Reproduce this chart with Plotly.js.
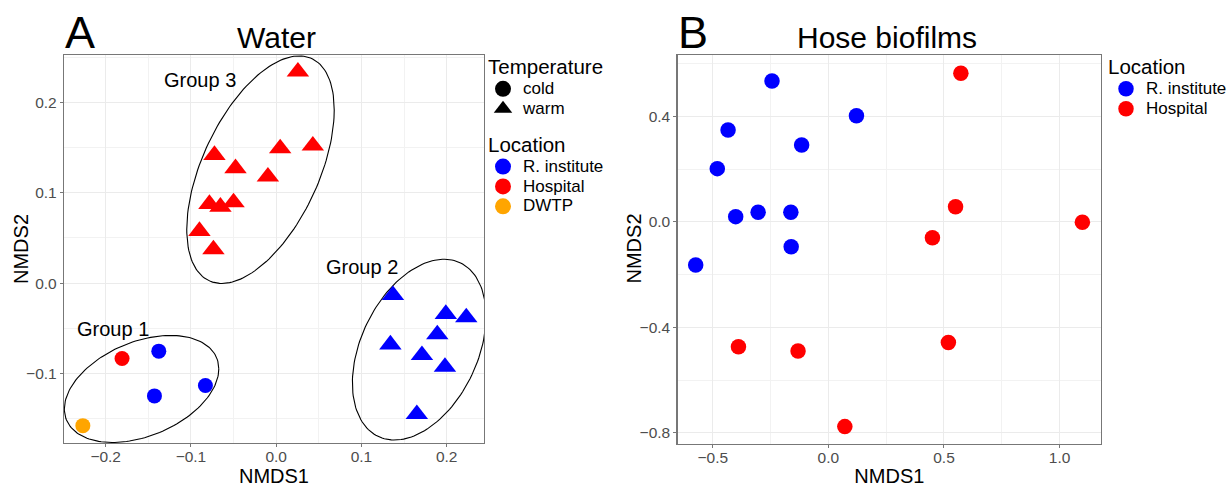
<!DOCTYPE html>
<html>
<head>
<meta charset="utf-8">
<script src="https://cdn.plot.ly/plotly-3.0.1.min.js"></script>
<style>
html,body{margin:0;padding:0;background:#fff;}
#chart{width:1227px;height:488px;}
</style>
</head>
<body>
<div id="chart"></div>
<script>
// ---------- Panel A: Water ----------
const waterNMDS1 = [0.0255, 0.043, 0.0047, -0.0724, -0.0477, -0.0097, -0.0783, -0.0654, -0.050, -0.090, -0.0736,
                    0.137, 0.199, 0.223, 0.189, 0.134, 0.171, 0.198, 0.165,
                    -0.1377, -0.1808, -0.1428, -0.083, -0.2268];
const waterNMDS2 = [0.234, 0.152, 0.149, 0.1417, 0.127, 0.1177, 0.0875, 0.0845, 0.0893, 0.0576, 0.0373,
                    -0.0133, -0.0343, -0.038, -0.0568, -0.068, -0.0797, -0.0927, -0.145,
                    -0.0753, -0.0834, -0.1248, -0.1133, -0.1577];
const waterLocation = ['Hospital','Hospital','Hospital','Hospital','Hospital','Hospital','Hospital','Hospital','Hospital','Hospital','Hospital',
                       'R. institute','R. institute','R. institute','R. institute','R. institute','R. institute','R. institute','R. institute',
                       'R. institute','Hospital','R. institute','R. institute','DWTP'];
const waterTemperature = ['warm','warm','warm','warm','warm','warm','warm','warm','warm','warm','warm',
                          'warm','warm','warm','warm','warm','warm','warm','warm',
                          'cold','cold','cold','cold','cold'];

// Ellipse (stat_ellipse) parameters
const groupNames   = ['Group 1', 'Group 2', 'Group 3'];
const ellipseCX    = [-0.1579, 0.1678, -0.0184];
const ellipseCY    = [-0.1171, -0.0736, 0.1255];
const ellipseHX    = [0.0906, 0.0784, 0.0865];
const ellipseHY    = [0.0592, 0.100, 0.1259];
const ellipseR     = [0.375, 0.37, 0.525];
const groupLabelX  = [-0.191, 0.1006, -0.0892];
const groupLabelY  = [-0.0513, 0.018, 0.2248];

// ---------- Panel B: Hose biofilms ----------
const hoseNMDS1 = [-0.244, 0.1214, -0.434, -0.1157, -0.4806, -0.401, -0.304, -0.1624, -0.161, -0.574,
                   0.573, 0.550, 1.0986, 0.450, -0.389, -0.1313, 0.519, 0.0711];
const hoseNMDS2 = [0.5355, 0.4037, 0.3494, 0.2924, 0.2025, 0.0203, 0.0367, 0.0367, -0.0937, -0.1633,
                   0.5646, 0.0582, -0.001, -0.0595, -0.4735, -0.490, -0.458, -0.777];
const hoseLocation = ['R. institute','R. institute','R. institute','R. institute','R. institute','R. institute','R. institute','R. institute','R. institute','R. institute',
                      'Hospital','Hospital','Hospital','Hospital','Hospital','Hospital','Hospital','Hospital'];

const waterLocations = ['R. institute', 'Hospital', 'DWTP'];
const hoseLocations = ['R. institute', 'Hospital'];
const temperatures = ['cold', 'warm'];

// ---------- styles ----------
const locColor = {'R. institute': '#0000FF', 'Hospital': '#FF0000', 'DWTP': '#FFA500'};
const tempSymbol = {'cold': 'circle', 'warm': 'triangle-up'};
const tempSize = {'cold': 15, 'warm': 19.5};
const FONT = 'Liberation Sans, Arial, Helvetica, sans-serif';
const big = (t, px) => '<span style="font-size:' + px + 'px">' + t + '</span>';

const traces = [];

// ellipses
for (let g = 0; g < groupNames.length; g++) {
  const ex = [], ey = [];
  const n = 160;
  const s = Math.sqrt(1 - ellipseR[g] * ellipseR[g]);
  for (let i = 0; i <= n; i++) {
    const t = 2 * Math.PI * i / n;
    ex.push(ellipseCX[g] + ellipseHX[g] * Math.cos(t));
    ey.push(ellipseCY[g] + ellipseHY[g] * (ellipseR[g] * Math.cos(t) + s * Math.sin(t)));
  }
  traces.push({x: ex, y: ey, mode: 'lines', line: {color: '#000', width: 1.1},
               showlegend: false, hoverinfo: 'skip', xaxis: 'x', yaxis: 'y'});
}

// water points by location x temperature
for (const loc of waterLocations) {
  for (const tmp of temperatures) {
    const xs = [], ys = [];
    for (let i = 0; i < waterNMDS1.length; i++) {
      if (waterLocation[i] === loc && waterTemperature[i] === tmp) { xs.push(waterNMDS1[i]); ys.push(waterNMDS2[i]); }
    }
    if (!xs.length) continue;
    traces.push({x: xs, y: ys, mode: 'markers', xaxis: 'x', yaxis: 'y', showlegend: false,
                 marker: {color: locColor[loc], symbol: tempSymbol[tmp], size: tempSize[tmp], line: {width: 0}}});
  }
}

// legend entries for panel A
temperatures.forEach(tmp => {
  traces.push({x: [null], y: [null], mode: 'markers', name: big(tmp, 17), xaxis: 'x', yaxis: 'y',
               legend: 'legend', legendgroup: 'Temperature',
               legendgrouptitle: {text: big('Temperature', 20.5), font: {size: 13, color: '#000', family: FONT}},
               marker: {color: '#000', symbol: tempSymbol[tmp], size: 16}});
});
waterLocations.forEach(loc => {
  traces.push({x: [null], y: [null], mode: 'markers', name: big(loc, 17), xaxis: 'x', yaxis: 'y',
               legend: 'legend', legendgroup: 'Location',
               legendgrouptitle: {text: big('Location', 20.5), font: {size: 13, color: '#000', family: FONT}},
               marker: {color: locColor[loc], symbol: 'circle', size: 16}});
});

// hose points
hoseLocations.forEach(loc => {
  const xs = [], ys = [];
  for (let i = 0; i < hoseNMDS1.length; i++) {
    if (hoseLocation[i] === loc) { xs.push(hoseNMDS1[i]); ys.push(hoseNMDS2[i]); }
  }
  traces.push({x: xs, y: ys, mode: 'markers', name: big(loc, 17), xaxis: 'x2', yaxis: 'y2',
               legend: 'legend2', showlegend: true,
               marker: {color: locColor[loc], symbol: 'circle', size: 15.5, line: {width: 0}}});
});

function axisStyle(extra) {
  return Object.assign({
    showgrid: true, gridcolor: '#EBEBEB', gridwidth: 1,
    zeroline: false, showline: true, mirror: true, linecolor: '#777', linewidth: 1.2,
    ticks: 'outside', ticklen: 3, tickcolor: '#777', tickwidth: 1,
    tickfont: {family: FONT, size: 15.5, color: '#4D4D4D'},
    tickformat: '.1f', automargin: true, fixedrange: true
  }, extra);
}

const annotations = [];
for (let g = 0; g < groupNames.length; g++) {
  annotations.push({x: groupLabelX[g], y: groupLabelY[g], xref: 'x', yref: 'y', text: groupNames[g],
                    xanchor: 'center', yanchor: 'middle',
                    showarrow: false, font: {family: FONT, size: 20, color: '#000'}});
}
const ttl = (text, xpx, ypx, size, angle) => ({text: text, x: xpx/1227, y: 1 - ypx/488, xref: 'paper', yref: 'paper',
  xanchor: 'center', yanchor: 'middle', textangle: angle || 0, showarrow: false,
  font: {family: FONT, size: size, color: '#000'}});
annotations.push(
  ttl('A', 80, 32.5, 45),
  ttl('Water', 276.7, 37.5, 30),
  ttl('B', 692.6, 32.5, 45),
  ttl('Hose biofilms', 886.7, 37.5, 30),
  // y-axis titles
  ttl('NMDS2', 21, 249, 20, -90),
  ttl('NMDS2', 633.5, 249, 20, -90)
);

const layout = {
  width: 1227, height: 488,
  margin: {l: 0, r: 0, t: 0, b: 0, autoexpand: false},
  paper_bgcolor: '#fff', plot_bgcolor: '#fff',
  font: {family: FONT, color: '#000'},
  hovermode: false,
  xaxis: axisStyle({domain: [64/1227, 484/1227], range: [-0.2489, 0.2438], dtick: 0.1, tick0: 0,
    ticklabelstandoff: -4,
    minor: {dtick: 0.05, tick0: 0, showgrid: true, gridcolor: '#F2F2F2', gridwidth: 1, ticks: ''},
    title: {text: 'NMDS1', font: {family: FONT, size: 20, color: '#000'}, standoff: 4}}),
  yaxis: axisStyle({domain: [45/488, 433/488], range: [-0.1769, 0.2524], dtick: 0.1, tick0: 0,
    minor: {dtick: 0.05, tick0: 0, showgrid: true, gridcolor: '#F2F2F2', gridwidth: 1, ticks: ''}}),
  xaxis2: axisStyle({domain: [677.5/1227, 1101.2/1227], range: [-0.6527, 1.18], dtick: 0.5, tick0: 0, anchor: 'y2',
    ticklabelstandoff: -4,
    minor: {dtick: 0.25, tick0: 0, showgrid: true, gridcolor: '#F2F2F2', gridwidth: 1, ticks: ''},
    title: {text: 'NMDS1', font: {family: FONT, size: 20, color: '#000'}, standoff: 4}}),
  yaxis2: axisStyle({domain: [44/488, 433/488], range: [-0.843, 0.634], dtick: 0.4, tick0: 0, anchor: 'x2',
    minor: {dtick: 0.2, tick0: 0, showgrid: true, gridcolor: '#F2F2F2', gridwidth: 1, ticks: ''}}),
  legend: {x: 483/1227, y: 1 - 54/488, xanchor: 'left', yanchor: 'top', traceorder: 'grouped',
           tracegroupgap: 18, bgcolor: 'rgba(0,0,0,0)', borderwidth: 0,
           font: {family: FONT, size: 13, color: '#000'}, itemclick: false, itemdoubleclick: false},
  legend2: {x: 1106/1227, y: 1 - 57/488, xanchor: 'left', yanchor: 'top',
            title: {text: big('Location', 20.5), font: {family: FONT, size: 13, color: '#000'}},
            bgcolor: 'rgba(0,0,0,0)', borderwidth: 0,
            font: {family: FONT, size: 13, color: '#000'}, itemclick: false, itemdoubleclick: false},
  annotations: annotations
};

Plotly.newPlot('chart', traces, layout, {displayModeBar: false, staticPlot: true});
</script>
</body>
</html>
